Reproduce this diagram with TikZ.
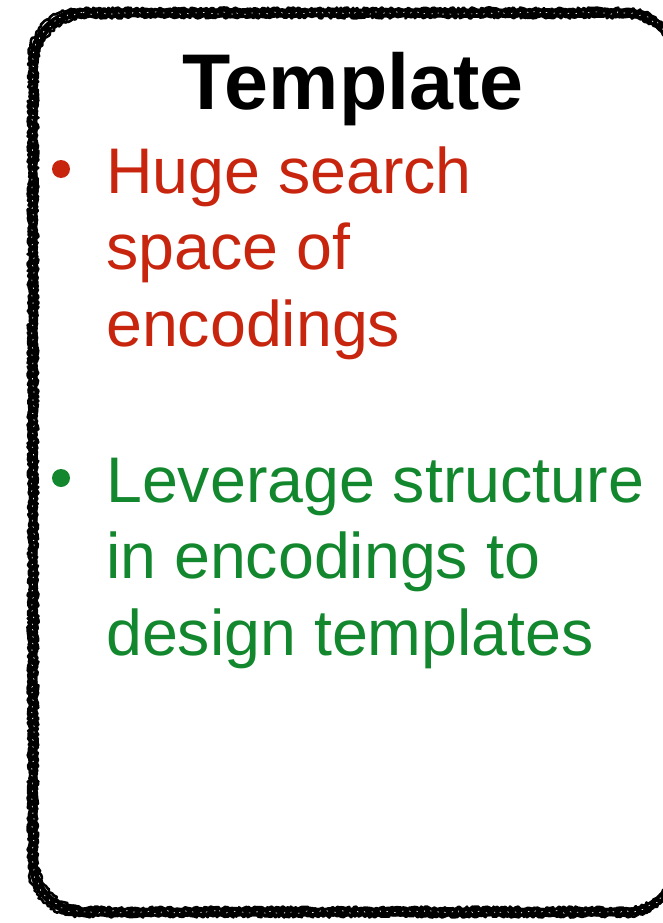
\documentclass[tikz,border=0pt]{standalone}
\usepackage{fontspec}
\setmainfont{Liberation Sans}
\usetikzlibrary{decorations.pathmorphing}
\definecolor{hugered}{RGB}{200,37,15}
\definecolor{levgreen}{RGB}{18,135,45}
% outline of the frame: straight sides joined by quarter-round corners
\newcommand{\frameoutline}[4]{%
  (#1+50,#2) -- (#3-50,#2) .. controls (#3-22,#2) and (#3,#2+22) .. (#3,#2+50)
  -- (#3,#4-50) .. controls (#3,#4-22) and (#3-22,#4) .. (#3-50,#4)
  -- (#1+50,#4) .. controls (#1+22,#4) and (#1,#4-22) .. (#1,#4-50)
  -- (#1,#2+50) .. controls (#1,#2+22) and (#1+22,#2) .. (#1+50,#2) -- cycle}
\begin{document}
\begin{tikzpicture}[x=1pt,y=-1pt,
  linetext/.style={anchor=base west,inner sep=0pt,font=\fontsize{64.5}{76}\selectfont},
  redtext/.style={linetext,text=hugered},
  greentext/.style={linetext,text=levgreen},
  bulletdot/.style={circle,inner sep=0pt,minimum size=18pt},
  chalk/.style={draw=black,line join=round},
  chalkrough/.style={chalk,decorate,decoration={random steps,segment length=2pt,amplitude=1.5pt}}]
  \useasboundingbox (0,0) rectangle (662,923);
  % hand-drawn frame: solid core plus rough chalky passes
  \draw[chalk,line width=8.5pt] \frameoutline{33}{13}{676}{912};
  \draw[chalkrough,line width=2.6pt] \frameoutline{29}{9}{676}{916};
  \draw[chalkrough,line width=2.6pt] \frameoutline{37}{17}{676}{908};
  \draw[chalkrough,draw=white,line width=0.6pt,dash pattern=on 1.5pt off 7pt] \frameoutline{33}{13}{676}{912};
  % title
  \node[anchor=base,inner sep=0pt,font=\fontsize{79}{79}\selectfont\bfseries] (title) at (353,110) {Template};
  % first bullet
  \node[bulletdot,fill=hugered] (b1) at (61,169) {};
  \node[redtext] (l1) at (106,193) {Huge search};
  \node[redtext] (l2) at (106,269) {space of};
  \node[redtext] (l3) at (106,346) {encodings};
  % second bullet
  \node[bulletdot,fill=levgreen] (b2) at (61,478) {};
  \node[greentext] (l4) at (106,502) {Leverage structure};
  \node[greentext] (l5) at (106,578) {in encodings to};
  \node[greentext] (l6) at (106,655) {design templates};
\end{tikzpicture}
\end{document}
